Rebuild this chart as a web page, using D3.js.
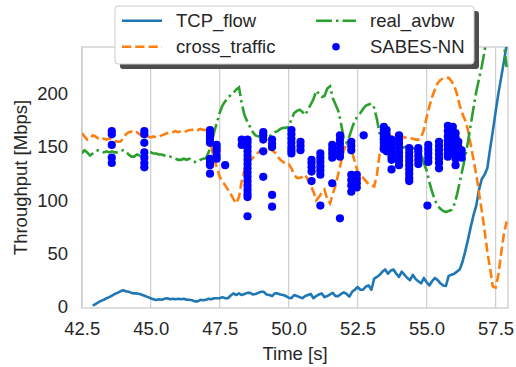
<!DOCTYPE html>
<html>
<head>
<meta charset="utf-8">
<script src="https://cdn.jsdelivr.net/npm/d3@7"></script>
<style>
  html, body { margin: 0; padding: 0; background: #fff; }
  svg { display: block; font-family: "Liberation Sans", Arial, sans-serif; }
</style>
</head>
<body>
<svg id="chart" width="516" height="367"></svg>
<script>
// ---------------- data ----------------
const sampleStep = 0.1;
const tcpStart = 42.9;
const tcpFlow = [
  1,
  2.5, 4, 5.5, 6.5, 8, 9, 10.5, 12, 13, 14.5,
  15.5, 14.5, 14, 13, 12.5, 12.5, 12, 11, 10, 9,
  8, 7, 6.3, 7, 6.5, 7.5, 8, 7, 7.5, 7,
  7.5, 7, 7.5, 6.5, 6.5, 6, 5, 5, 6.5, 6,
  6.5, 7.5, 7, 8, 8, 8, 9, 8, 8, 10.5,
  12.5, 11, 12.5, 11, 12, 13, 13, 11.5, 12, 13,
  14, 14, 11.5, 11, 10, 12.5, 12.5, 11.5, 11, 10,
  8.5, 8, 11, 10, 9, 8, 10, 11, 12, 8,
  10, 11.5, 12.5, 9, 10, 11.5, 13, 10, 10, 12,
  13.5, 12, 9.5, 14, 16, 18.5, 16, 16, 19, 20,
  16, 26.5, 28, 30, 33, 35, 31, 34, 35, 31,
  28, 33, 30, 27, 25, 30, 26, 24, 22, 27,
  23, 20, 24, 27, 25, 22, 20, 19.5, 29, 30,
  31, 33, 35, 42, 52, 63, 75, 86, 95, 110,
  120, 124, 130, 148, 165, 183, 200, 215, 230, 246
];

const lineStart = 42.5;
const crossTraffic = [
  163, 160, 157, 158, 161,
  160, 158, 157, 158, 157, 158, 157, 156, 155, 155,
  158, 162, 164, 164.5, 163, 164, 162, 160, 159, 160,
  159, 160, 159, 160, 161, 162, 163, 164, 164, 165,
  164, 165, 164, 165, 166, 166, 167, 166, 167, 166,
  166, 165, 150, 138, 131, 122, 118, 114, 110, 106,
  101, 97, 103, 118, 128, 133, 137, 140, 142, 145,
  147, 148, 149, 148, 147, 145, 141, 138, 136, 134,
  134, 130, 124, 121, 121, 122, 124, 119, 114, 108,
  100, 103, 107, 110, 101, 97, 106, 114, 125, 136,
  147, 153, 155, 145, 136, 127, 124, 121, 118, 115,
  114, 113, 124, 144, 156, 159, 160, 160, 159, 159,
  159, 160, 159, 159, 158, 158, 157, 157, 159, 166,
  178, 188, 197, 204, 210, 213, 214.5, 215, 215, 212,
  208, 200, 189, 181, 175, 166, 152, 138, 124, 107,
  90, 72, 52, 36, 19, 18, 30, 50, 68, 80
];

const realAvbw = [
  144, 147, 145, 142, 144,
  146, 147, 146, 145, 146, 145, 146, 145, 145, 146,
  147, 146, 143, 141, 141, 143, 142, 144, 145, 145,
  145, 144, 144, 143, 143, 142, 141, 141, 140, 139,
  138, 138, 139, 138, 139, 137, 136, 136, 138, 139,
  139.5, 145, 153, 164, 173, 182, 189, 193, 196, 199,
  201, 204, 206, 191, 180, 174, 169, 164, 161, 160,
  160, 159, 160, 160, 162, 164, 165, 167, 168, 168,
  169, 176, 182, 184, 185, 183, 180, 185, 190, 195,
  203, 200, 197, 198, 205, 207, 196, 190, 184, 172,
  158, 154, 160, 168, 175, 179, 182, 186, 189, 190,
  191, 187, 176, 162, 152, 149, 148, 148, 149, 149,
  150, 149, 150, 150, 150, 149, 148, 147, 144, 135,
  128, 117, 108, 100, 95, 92, 90, 89, 90, 91,
  96, 105, 117, 129, 141, 155, 171, 187, 202, 214,
  226, 240, 256, 272, 285, 290, 285, 270, 248, 225
];

const sabesTime = [
  43.59, 43.59, 43.59, 43.59, 43.59,
  44.77, 44.77, 44.77, 44.77, 44.77, 44.77, 44.77,
  47.15, 47.15, 47.15, 47.15, 47.15, 47.15, 47.15, 47.15, 47.15,
  47.39, 47.39, 47.39, 47.39, 47.39,
  47.70,
  48.30, 48.30,
  48.51, 48.51, 48.51, 48.51, 48.51, 48.51, 48.51, 48.51, 48.51, 48.51, 48.51, 48.51, 48.51, 48.51, 48.51, 48.51,
  49.08, 49.08, 49.08, 49.08, 49.08,
  49.40, 49.40, 49.40, 49.40, 49.40,
  50.10, 50.10, 50.10, 50.10, 50.10, 50.10, 50.10,
  50.43, 50.43, 50.43,
  50.83, 50.83, 50.83, 50.83, 50.83,
  51.15, 51.15, 51.15, 51.15, 51.15, 51.15, 51.15,
  51.58, 51.58, 51.58, 51.58, 51.58,
  51.86, 51.86, 51.86, 51.86, 51.86, 51.86, 51.86,
  52.27, 52.27, 52.27, 52.27, 52.27, 52.27, 52.27,
  52.47, 52.47, 52.47, 52.47,
  52.72,
  53.45, 53.45, 53.45, 53.45, 53.45, 53.45, 53.45, 53.45,
  53.55, 53.55, 53.55, 53.55, 53.55, 53.55,
  53.73, 53.73, 53.73, 53.73, 53.73, 53.73, 53.73,
  54.00, 54.00, 54.00, 54.00, 54.00, 54.00, 54.00, 54.00,
  54.37, 54.37, 54.37, 54.37, 54.37, 54.37, 54.37, 54.37, 54.37,
  54.70, 54.70, 54.70, 54.70, 54.70,
  55.03,
  55.06, 55.06, 55.06, 55.06, 55.06,
  55.45, 55.45, 55.45, 55.45, 55.45, 55.45, 55.45,
  55.77, 55.77, 55.77, 55.77, 55.77, 55.77, 55.77, 55.77,
  55.95, 55.95, 55.95, 55.95, 55.95, 55.95, 55.95,
  56.05, 56.05, 56.05, 56.05, 56.05, 56.05, 56.05, 56.05,
  56.15, 56.15, 56.15, 56.15,
  56.27, 56.27, 56.27
];
const sabesValue = [
  165, 162, 152, 140, 135,
  165, 162, 154, 145, 140, 135, 131,
  166, 163, 160, 157, 154, 139, 136, 133, 125,
  152, 149, 146, 142, 139,
  133,
  157, 152,
  157, 154, 150, 146, 142, 138, 134, 130, 126, 122, 118, 114, 110, 106, 103, 85,
  164, 161, 157, 146, 122,
  157, 153, 150, 105, 94,
  166, 162, 158, 154, 150, 147, 144,
  155, 151, 147,
  138, 135, 131, 127, 118,
  144, 140, 136, 132, 128, 124, 95,
  152, 148, 144, 140, 116,
  161, 157, 153, 149, 145, 141, 83,
  155, 151, 147, 124, 119, 114, 108,
  124, 120, 116, 112,
  161,
  169, 166, 163, 160, 157, 154, 151, 148,
  166, 162, 158, 154, 150, 146,
  157, 153, 149, 145, 141, 138, 129,
  161, 157, 153, 149, 145, 141, 137, 133,
  149, 145, 141, 137, 133, 129, 125, 121, 118,
  149, 146, 142, 138, 134,
  95,
  152, 148, 144, 140, 136,
  155, 151, 147, 143, 139, 135, 130,
  170, 165, 160, 156, 152, 148, 144, 141,
  169, 165, 161, 157, 153, 149, 145,
  163, 159, 155, 151, 147, 143, 139, 133,
  155, 150, 146, 142,
  147, 143, 140
];

const xTicks = [42.5, 45.0, 47.5, 50.0, 52.5, 55.0, 57.5];
const yTicks = [0, 50, 100, 150, 200];
const seriesNames = ["TCP_flow", "cross_traffic", "real_avbw", "SABES-NN"];

// ---------------- layout ----------------
const svg = d3.select("#chart");
const L = 82, R = 508, T = 47, B = 308;
const FS = 18.5;
const textColor = "#262626";
const gridColor = "#d0d0d0";

const x = d3.scaleLinear().domain([42.5, 57.95]).range([L - 0.3, R]);
const y = d3.scaleLinear().domain([-1.2, 244]).range([B, T]);

const toPts = (start, arr) => arr.map((v, i) => [start + i * sampleStep, v]);

svg.append("defs").append("clipPath").attr("id", "clip")
  .append("rect").attr("x", L).attr("y", T).attr("width", R - L).attr("height", B - T);

// vertical grid
svg.append("g").selectAll("line").data(xTicks).join("line")
  .attr("x1", d => x(d)).attr("x2", d => x(d))
  .attr("y1", T).attr("y2", B)
  .attr("stroke", gridColor).attr("stroke-width", 1.3);

// axes (tick text only)
const xAxis = d3.axisBottom(x).tickValues(xTicks).tickFormat(d3.format(".1f")).tickSize(0).tickPadding(14);
const gx = svg.append("g").attr("transform", `translate(0,${B})`).call(xAxis);
gx.select(".domain").remove();
gx.selectAll("text").attr("font-size", FS).attr("fill", textColor).attr("font-family", "Liberation Sans, Arial, sans-serif");

const yAxis = d3.axisLeft(y).tickValues(yTicks).tickFormat(d3.format("d")).tickSize(0).tickPadding(14);
const gy = svg.append("g").attr("transform", `translate(${L},0)`).call(yAxis);
gy.select(".domain").remove();
gy.selectAll("text").attr("font-size", FS).attr("fill", textColor).attr("font-family", "Liberation Sans, Arial, sans-serif");

// spines
svg.append("rect").attr("x", L).attr("y", T).attr("width", R - L).attr("height", B - T)
  .attr("fill", "none").attr("stroke", "#cccccc").attr("stroke-width", 1.3);

// lines
const line = d3.line().x(d => x(d[0])).y(d => y(d[1]));
const plot = svg.append("g").attr("clip-path", "url(#clip)");

plot.append("path").datum(toPts(tcpStart, tcpFlow))
  .attr("d", line).attr("fill", "none").attr("stroke", "#1f77b4").attr("stroke-width", 2.6)
  .attr("stroke-linejoin", "round");
plot.append("path").datum(toPts(lineStart, crossTraffic))
  .attr("d", line).attr("fill", "none").attr("stroke", "#ff7f0e").attr("stroke-width", 2.6)
  .attr("stroke-dasharray", "9.25,4");
plot.append("path").datum(toPts(lineStart, realAvbw))
  .attr("d", line).attr("fill", "none").attr("stroke", "#2ca02c").attr("stroke-width", 2.6)
  .attr("stroke-dasharray", "16,4,2.5,4");

plot.append("g").selectAll("circle").data(sabesTime.map((t, i) => [t, sabesValue[i]])).join("circle")
  .attr("cx", d => x(d[0])).attr("cy", d => y(d[1])).attr("r", 4.1).attr("fill", "#0000ff");

// axis labels
svg.append("text").attr("x", (L + R) / 2).attr("y", 360).attr("text-anchor", "middle")
  .attr("font-size", FS).attr("fill", textColor).text("Time [s]");
svg.append("text").attr("transform", `translate(27,${(T + B) / 2}) rotate(-90)`).attr("text-anchor", "middle")
  .attr("font-size", FS).attr("fill", textColor).text("Throughput [Mbps]");

// legend
const lg = svg.append("g");
const lx = 115, ly = 6, lw = 359, lh = 58;
lg.append("rect").attr("x", lx + 5).attr("y", ly + 5).attr("width", lw).attr("height", lh).attr("rx", 3)
  .attr("fill", "#4d4d4d");
lg.append("rect").attr("x", lx).attr("y", ly).attr("width", lw).attr("height", lh).attr("rx", 3)
  .attr("fill", "#ffffff").attr("stroke", "#cccccc").attr("stroke-width", 1);

const items = [
  { name: seriesNames[0], cx: 122, tx: 176, cy: 20.7, color: "#1f77b4", dash: null },
  { name: seriesNames[1], cx: 122, tx: 176, cy: 46.7, color: "#ff7f0e", dash: "9.25,4" },
  { name: seriesNames[2], cx: 316, tx: 370, cy: 20.7, color: "#2ca02c", dash: "16,4,2.5,4" },
  { name: seriesNames[3], cx: 316, tx: 370, cy: 46.7, color: "#0000ff", dot: true }
];
items.forEach(it => {
  if (it.dot) {
    lg.append("circle").attr("cx", it.cx + 20).attr("cy", it.cy).attr("r", 3.8).attr("fill", it.color);
  } else {
    const l = lg.append("line").attr("x1", it.cx).attr("x2", it.cx + 40).attr("y1", it.cy).attr("y2", it.cy)
      .attr("stroke", it.color).attr("stroke-width", 2.6);
    if (it.dash) l.attr("stroke-dasharray", it.dash);
  }
  lg.append("text").attr("x", it.tx).attr("y", it.cy + 6.5).attr("font-size", FS).attr("fill", textColor).text(it.name);
});
</script>
</body>
</html>
